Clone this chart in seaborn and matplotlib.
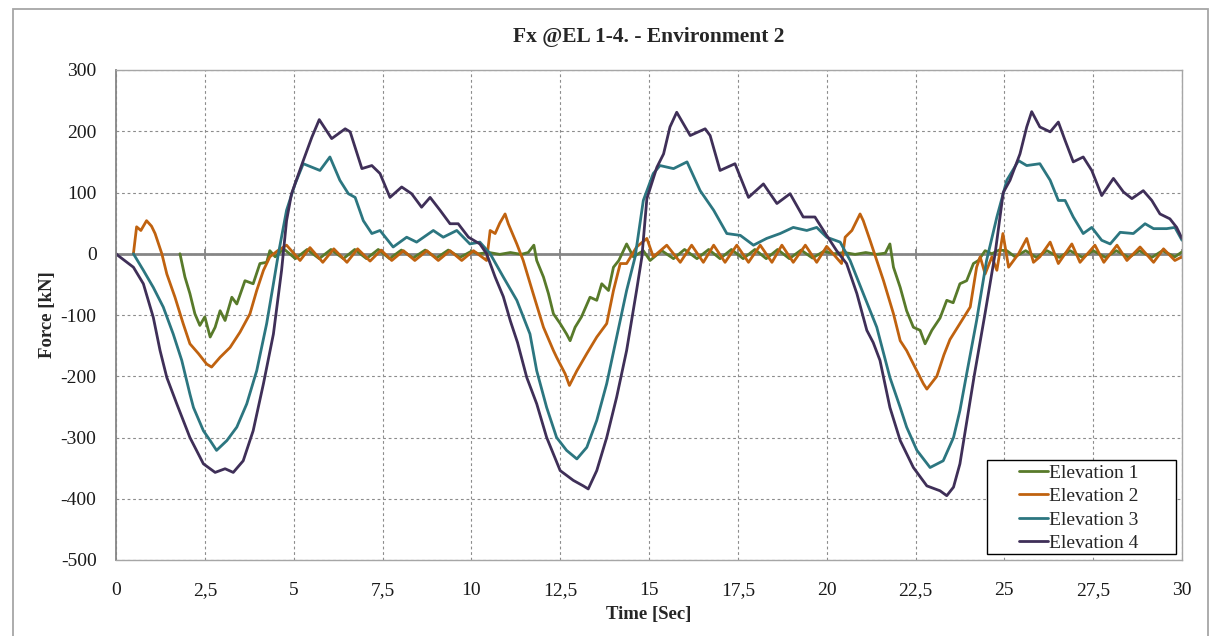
import matplotlib
matplotlib.use("Agg")
import matplotlib.pyplot as plt
import matplotlib.patches as mpatches
import seaborn as sns
import pandas as pd

# ---- Fx time histories (time in s, force in kN) ----
t_el1 = [1.80, 1.94, 2.08, 2.22, 2.36, 2.50, 2.65, 2.79, 2.93, 3.07, 3.26, 3.40, 3.63, 3.86, 4.05, 4.24, 4.33, 4.48,
         4.72, 5.05, 5.38, 5.72, 6.05, 6.40, 6.72, 7.05, 7.38, 7.70, 8.03, 8.36, 8.70, 9.02, 9.35, 9.68, 10.00, 10.20,
         10.50, 10.80, 11.10, 11.40, 11.60, 11.76, 11.84, 12.03, 12.17, 12.31, 12.50, 12.68, 12.78, 12.92, 13.10, 13.34,
         13.53, 13.67, 13.86, 14.00, 14.15, 14.37, 14.56, 14.84, 15.03, 15.36, 15.69, 16.00, 16.35, 16.68, 17.00, 17.32,
         17.65, 17.98, 18.30, 18.62, 18.95, 19.28, 19.60, 19.92, 20.20, 20.50, 20.80, 21.10, 21.40, 21.65, 21.78, 21.88,
         22.07, 22.25, 22.44, 22.63, 22.77, 22.96, 23.19, 23.38, 23.56, 23.75, 23.94, 24.13, 24.27, 24.46, 24.65, 24.85,
         25.07, 25.30, 25.60, 25.90, 26.20, 26.55, 26.85, 27.20, 27.50, 27.85, 28.15, 28.50, 28.80, 29.15, 29.45, 29.80,
         30.00]
f_el1 = [0, -38, -65, -98, -117, -103, -136, -120, -93, -109, -71, -82, -44, -49, -16, -14, 5, -5,
         8, -8, 7, -8, 7, -8, 7, -8, 7, -8, 6, -7, 6, -7, 6, -6, 4, 0,
         2, -1, 2, -1, 2, 14, -11, -38, -65, -98, -114, -131, -142, -120, -103, -71,
         -76, -49, -60, -22, -11, 16, -5, 5, -11, 5, -8, 7, -8, 7, -8, 7,
         -8, 7, -8, 7, -8, 6, -7, 4, 0, 2, -1, 2, -1, 1, 16, -22,
         -55, -93, -120, -125, -147, -125, -105, -76, -80, -49, -44, -16, -11, 5, 0, 6,
         5, -5, 5, -6, 5, -6, 5, -6, 5, -6, 5, -6, 5, -6, 5, -5,
         3]

t_el2 = [0.49, 0.58, 0.70, 0.86, 1.00, 1.10, 1.29, 1.43, 1.66, 1.89, 2.08, 2.32, 2.55, 2.69, 2.93, 3.21, 3.49, 3.77,
         3.96, 4.15, 4.33, 4.55, 4.80, 5.18, 5.46, 5.82, 6.13, 6.50, 6.80, 7.15, 7.46, 7.76, 8.09, 8.41, 8.75, 9.07,
         9.40, 9.73, 10.06, 10.43, 10.53, 10.67, 10.80, 10.95, 11.04, 11.28, 11.46, 11.74, 12.03, 12.31, 12.40, 12.64,
         12.76, 12.97, 13.25, 13.53, 13.81, 14.00, 14.19, 14.37, 14.65, 14.94, 15.12, 15.50, 15.88, 16.20, 16.53, 16.82,
         17.14, 17.47, 17.80, 18.13, 18.46, 18.74, 19.06, 19.40, 19.72, 20.00, 20.42, 20.52, 20.71, 20.94, 21.03, 21.22,
         21.41, 21.60, 21.88, 22.07, 22.25, 22.44, 22.72, 22.82, 23.10, 23.30, 23.47, 23.75, 24.04, 24.22, 24.32, 24.46,
         24.65, 24.79, 24.96, 25.12, 25.40, 25.63, 25.82, 26.00, 26.29, 26.52, 26.90, 27.13, 27.55, 27.80, 28.17, 28.45,
         28.82, 29.20, 29.48, 29.80, 30.00]
f_el2 = [0, 44, 38, 54, 45, 33, 0, -33, -71, -114, -147, -163, -180, -185, -169, -153, -128, -98,
         -60, -27, -5, 5, 14, -11, 10, -14, 8, -14, 8, -12, 6, -11, 5, -11, 5, -11,
         5, -11, 5, -11, 38, 33, 50, 65, 49, 16, -11, -65, -120, -158, -169, -196,
         -215, -191, -163, -136, -114, -60, -16, -16, 11, 25, -5, 14, -14, 14, -14, 14,
         -14, 14, -14, 14, -14, 14, -14, 14, -14, 12, -16, 27, 38, 65, 54, 22,
         -11, -44, -98, -142, -158, -180, -212, -221, -200, -165, -140, -114, -87, -22, -5, -33,
         -5, -27, 33, -22, 0, 25, -14, -5, 19, -16, 16, -14, 14, -14, 14, -11,
         11, -14, 8, -11, -5]

t_el3 = [0.49, 0.77, 1.05, 1.33, 1.61, 1.85, 2.08, 2.18, 2.46, 2.65, 2.83, 3.12, 3.40, 3.68, 3.96, 4.24, 4.43, 4.57,
         4.80, 5.04, 5.27, 5.74, 6.02, 6.30, 6.54, 6.73, 6.96, 7.20, 7.43, 7.80, 8.18, 8.46, 8.93, 9.21, 9.59, 9.96,
         10.24, 10.53, 10.90, 11.28, 11.65, 11.84, 12.12, 12.40, 12.68, 12.97, 13.25, 13.53, 13.81, 14.09, 14.37, 14.61,
         14.84, 15.12, 15.31, 15.69, 16.07, 16.44, 16.82, 17.19, 17.57, 17.94, 18.31, 18.69, 19.06, 19.44, 19.72, 20.00,
         20.38, 20.66, 21.03, 21.41, 21.78, 22.07, 22.25, 22.54, 22.91, 23.28, 23.57, 23.75, 23.94, 24.22, 24.50, 24.79,
         25.07, 25.40, 25.63, 26.00, 26.29, 26.52, 26.71, 26.94, 27.22, 27.46, 27.74, 27.98, 28.26, 28.63, 28.96, 29.20,
         29.57, 29.80, 30.00]
f_el3 = [0, -27, -55, -87, -131, -174, -229, -251, -289, -305, -321, -305, -283, -245, -191, -114, -49, 0,
         71, 114, 147, 136, 158, 120, 98, 92, 54, 33, 38, 11, 27, 19, 38, 27, 38, 16,
         19, 0, -38, -76, -131, -191, -251, -300, -321, -335, -316, -272, -212, -136, -60, -5,
         87, 131, 144, 139, 150, 103, 71, 33, 30, 14, 25, 33, 43, 38, 43, 27,
         19, -11, -65, -120, -202, -251, -283, -321, -349, -338, -300, -256, -196, -109, -11, 60,
         120, 152, 144, 147, 120, 87, 87, 60, 33, 43, 22, 16, 35, 33, 49, 41,
         41, 43, 22]

t_el4 = [0.00, 0.06, 0.49, 0.77, 1.05, 1.24, 1.43, 1.71, 2.08, 2.46, 2.79, 3.07, 3.30, 3.58, 3.86, 4.15, 4.43, 4.66,
         4.80, 4.94, 5.27, 5.51, 5.72, 6.07, 6.45, 6.59, 6.92, 7.20, 7.43, 7.71, 8.04, 8.32, 8.60, 8.84, 9.12, 9.40,
         9.63, 9.92, 10.24, 10.43, 10.67, 10.90, 11.10, 11.30, 11.56, 11.84, 12.12, 12.50, 12.87, 13.15, 13.29, 13.53,
         13.81, 14.09, 14.37, 14.65, 14.80, 14.94, 15.22, 15.41, 15.59, 15.78, 16.16, 16.58, 16.72, 17.00, 17.42, 17.80,
         18.22, 18.60, 18.97, 19.34, 19.67, 19.91, 20.28, 20.56, 20.85, 21.13, 21.31, 21.50, 21.78, 22.07, 22.44, 22.82,
         23.19, 23.38, 23.57, 23.75, 23.87, 24.15, 24.45, 24.74, 24.97, 25.16, 25.44, 25.63, 25.77, 26.00, 26.29, 26.52,
         26.71, 26.94, 27.22, 27.46, 27.74, 28.07, 28.35, 28.59, 28.91, 29.15, 29.38, 29.66, 29.85, 30.00]
f_el4 = [0, -3, -22, -49, -104, -158, -202, -245, -300, -343, -357, -351, -357, -338, -289, -212, -131, -27,
         54, 98, 152, 190, 219, 188, 204, 199, 139, 144, 131, 92, 109, 98, 76, 92, 71, 49,
         49, 27, 16, 0, -38, -70, -110, -145, -202, -245, -300, -354, -370, -379, -384, -354,
         -300, -234, -158, -60, -5, 90, 141, 163, 207, 231, 193, 204, 193, 136, 147, 92,
         114, 82, 98, 60, 60, 38, 5, -16, -65, -125, -145, -174, -251, -305, -349, -379,
         -387, -395, -381, -343, -300, -200, -100, 0, 100, 120, 163, 207, 232, 207, 199, 215,
         185, 150, 158, 136, 95, 123, 101, 90, 103, 87, 65, 57, 43, 25]

series_names = ["Elevation 1", "Elevation 2", "Elevation 3", "Elevation 4"]
series_colors = ["#587A2A", "#C0620F", "#2C7680", "#3F2F58"]

x_ticks = [0, 2.5, 5, 7.5, 10, 12.5, 15, 17.5, 20, 22.5, 25, 27.5, 30]
x_tick_labels = ["0", "2,5", "5", "7,5", "10", "12,5", "15", "17,5", "20", "22,5", "25", "27,5", "30"]
y_ticks = [-500, -400, -300, -200, -100, 0, 100, 200, 300]

frames = []
for name, t, f in zip(series_names, [t_el1, t_el2, t_el3, t_el4], [f_el1, f_el2, f_el3, f_el4]):
    frames.append(pd.DataFrame({"Time": t, "Force": f, "Series": name}))
data = pd.concat(frames, ignore_index=True)

sns.set_theme(style="white")
serif = ["Liberation Serif", "DejaVu Serif"]
plt.rcParams["font.family"] = serif
plt.rcParams["axes.unicode_minus"] = False

fig = plt.figure(figsize=(12.11, 6.36), dpi=100)
ax = fig.add_axes([116 / 1211, 1 - 560 / 636, (1182 - 116) / 1211, (560 - 70) / 636])

# chart-area border
fig.patches.append(mpatches.Rectangle((13 / 1211, -0.01), (1208 - 13) / 1211, 1 - 9 / 636 + 0.01,
                                      transform=fig.transFigure, fill=False, edgecolor="#a6a6a6", lw=1.3))

ax.set_xlim(0, 30)
ax.set_ylim(-500, 300)
ax.set_xticks(x_ticks)
ax.set_xticklabels(x_tick_labels)
ax.set_yticks(y_ticks)
ax.grid(True, color="#8c8c8c", linestyle=(0, (2.5, 2.5)), linewidth=0.8)
ax.set_axisbelow(True)

# horizontal axis line at zero with its tick marks
ax.axhline(0, color="#868686", lw=2.0, zorder=1.5)
ax.plot(x_ticks, [0] * len(x_ticks), linestyle="none", marker="|", markersize=7,
        markeredgewidth=1.3, color="#868686", zorder=1.5)

sns.lineplot(data=data, x="Time", y="Force", hue="Series", hue_order=series_names,
             palette=series_colors, estimator=None, sort=False, lw=2.0, ax=ax, legend=False)

for side in ["top", "right", "bottom"]:
    ax.spines[side].set_color("#a6a6a6")
    ax.spines[side].set_linewidth(1.0)
ax.spines["left"].set_color("#868686")
ax.spines["left"].set_linewidth(1.3)

ax.tick_params(axis="both", length=0, labelsize=14, labelcolor="#1a1a1a")
ax.tick_params(axis="x", pad=16)
ax.tick_params(axis="y", pad=14)

ax.set_xlabel("Time [Sec]", fontsize=13.5, fontweight="bold", labelpad=5)
ax.set_ylabel("Force [kN]", fontsize=13.5, fontweight="bold", labelpad=3)
fig.text(0.5 * (116 + 1182) / 1211, 1 - 37 / 636, "Fx @EL 1-4. - Environment 2",
         ha="center", va="center", fontsize=15.5, fontweight="bold")

# legend box with centred entries
fig.patches.append(mpatches.Rectangle((987 / 1211, 1 - 554 / 636), (1176 - 987) / 1211, (554 - 460) / 636,
                                      transform=fig.transFigure, facecolor="white", edgecolor="black",
                                      lw=1.0, zorder=5))
handles = [plt.Line2D([], [], color=c, lw=2.0) for c in series_colors]
leg = fig.legend(handles, series_names, loc="center",
                 bbox_to_anchor=((987 + 1170) / 2 / 1211, 1 - 508 / 636), bbox_transform=fig.transFigure,
                 fontsize=14, frameon=False, handlelength=1.5, handletextpad=0.05,
                 borderpad=0, labelspacing=0.3, borderaxespad=0)
leg.set_zorder(6)

fig.savefig("out.png", dpi=100)
